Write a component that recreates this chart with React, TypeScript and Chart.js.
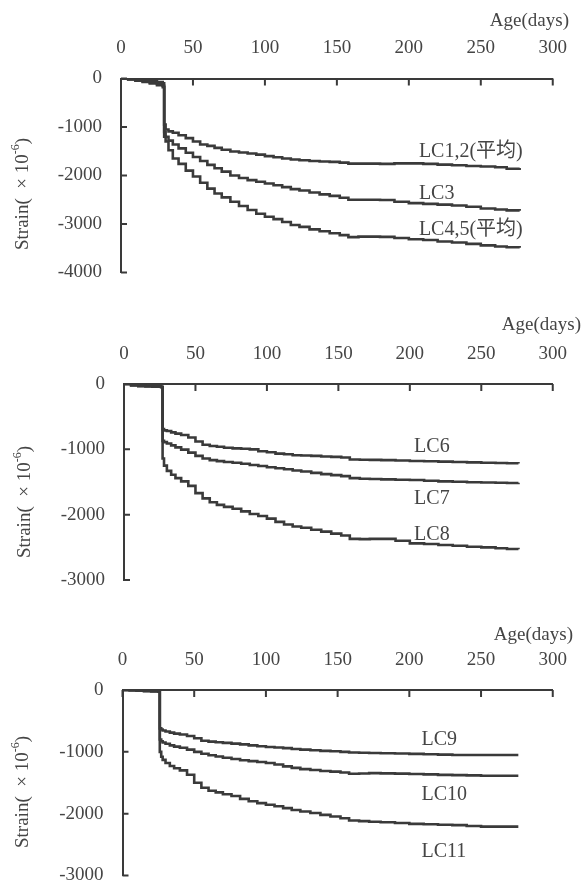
import React, { useEffect, useRef } from "react";
import { Chart, registerables } from "chart.js";

Chart.register(...registerables);

// ---------- data ----------
const xTickStep = 50;

// Panel 1 : LC1,2 / LC3 / LC4,5
const days1 = [0, 5, 10, 15, 20, 25, 29, 30, 31, 33, 36, 40, 45, 50, 55, 60, 65, 70, 76, 82, 88, 94, 100, 106, 112, 118, 124, 131, 138, 145, 152, 158, 165, 172, 180, 190, 200, 210, 220, 230, 240, 250, 260, 268, 277];
const lc12 = [0, -10, -25, -40, -55, -75, -100, -950, -1050, -1090, -1120, -1170, -1230, -1300, -1360, -1390, -1430, -1470, -1505, -1525, -1545, -1570, -1600, -1625, -1650, -1670, -1685, -1700, -1710, -1720, -1735, -1755, -1755, -1755, -1760, -1750, -1750, -1760, -1775, -1790, -1805, -1815, -1830, -1860, -1845];
const lc3 = [0, -15, -35, -55, -80, -110, -150, -1100, -1200, -1280, -1360, -1440, -1530, -1620, -1700, -1780, -1850, -1920, -2000, -2050, -2095, -2130, -2165, -2200, -2240, -2280, -2310, -2350, -2390, -2420, -2460, -2500, -2500, -2500, -2505, -2540, -2570, -2585, -2600, -2620, -2645, -2680, -2700, -2720, -2725];
const lc45 = [0, -20, -45, -70, -100, -140, -180, -1200, -1300, -1480, -1650, -1760, -1900, -2020, -2150, -2270, -2370, -2450, -2540, -2630, -2710, -2790, -2850, -2900, -2960, -3020, -3060, -3110, -3150, -3190, -3230, -3270, -3260, -3260, -3265, -3290, -3315, -3330, -3360, -3380, -3410, -3440, -3465, -3480, -3490];

// Panel 2 : LC6 / LC7 / LC8
const days2 = [0, 5, 10, 15, 20, 26, 27, 28, 30, 33, 36, 40, 45, 50, 55, 60, 65, 70, 76, 82, 88, 94, 100, 106, 112, 118, 124, 131, 138, 145, 152, 158, 165, 172, 180, 190, 200, 210, 220, 230, 240, 250, 260, 268, 276];
const lc6 = [0, -20, -30, -35, -40, -45, -690, -710, -720, -740, -760, -780, -820, -880, -930, -950, -960, -975, -985, -990, -1000, -1030, -1045, -1065, -1075, -1090, -1095, -1100, -1110, -1115, -1125, -1155, -1160, -1162, -1165, -1170, -1178, -1183, -1188, -1195, -1200, -1205, -1210, -1212, -1215];
const lc7 = [0, -20, -30, -35, -40, -45, -870, -890, -910, -940, -970, -1005, -1050, -1100, -1140, -1165, -1180, -1195, -1205, -1220, -1240, -1255, -1275, -1290, -1305, -1325, -1340, -1360, -1380, -1395, -1410, -1440, -1450, -1455, -1460, -1465, -1470, -1480, -1490, -1497, -1503, -1508, -1511, -1515, -1511];
const lc8 = [0, -20, -30, -35, -40, -45, -1140, -1250, -1330, -1390, -1440, -1490, -1560, -1670, -1750, -1810, -1850, -1880, -1910, -1950, -1990, -2020, -2060, -2110, -2150, -2180, -2200, -2230, -2260, -2290, -2320, -2370, -2375, -2370, -2370, -2400, -2440, -2450, -2465, -2475, -2490, -2500, -2515, -2525, -2531];

// Panel 3 : LC9 / LC10 / LC11
const days3 = [0, 5, 10, 15, 20, 25, 26, 27, 28, 30, 33, 36, 40, 45, 50, 55, 60, 65, 70, 76, 82, 88, 94, 100, 106, 112, 118, 124, 131, 138, 145, 152, 158, 165, 172, 180, 190, 200, 210, 220, 230, 240, 250, 260, 268, 276];
const lc9 = [0, -5, -10, -15, -20, -25, -620, -640, -655, -670, -690, -705, -720, -745, -780, -820, -835, -846, -855, -868, -880, -895, -910, -922, -930, -940, -955, -965, -975, -985, -990, -1000, -1010, -1015, -1018, -1022, -1028, -1033, -1040, -1045, -1050, -1050, -1051, -1051, -1051, -1051];
const lc10 = [0, -5, -10, -15, -20, -25, -800, -830, -850, -870, -895, -915, -935, -965, -1000, -1030, -1055, -1075, -1095, -1115, -1135, -1150, -1165, -1180, -1205, -1235, -1260, -1280, -1295, -1310, -1320, -1335, -1355, -1350, -1345, -1348, -1352, -1358, -1365, -1372, -1376, -1380, -1386, -1386, -1386, -1386];
const lc11 = [0, -5, -10, -15, -20, -25, -1000, -1080, -1130, -1180, -1230, -1265, -1300, -1370, -1500, -1580, -1630, -1655, -1685, -1715, -1760, -1800, -1830, -1855, -1880, -1910, -1940, -1965, -1990, -2020, -2045, -2075, -2110, -2120, -2130, -2140, -2150, -2165, -2172, -2180, -2185, -2200, -2210, -2210, -2210, -2210];

// ---------- styles / layout ----------
const SERIF = '"Liberation Serif", "Times New Roman", "Noto Sans CJK SC", serif';
const TEXT = "#454545";
const LINE = "#3a3a3a";
const AXIS = "#3a3a3a";
const FS = 19;

type Panel = {
  top: number;
  height: number;
  area: { left: number; right: number; top: number; bottom: number };
  yMin: number;
  days: number[];
  series: number[][];
  names: string[];
  labelAt: { x: number; y: number }[];
  age: { right: number; y: number };
  yTitle: { x: number; y: number };
};

const panels: Panel[] = [
  {
    top: 0, height: 316,
    area: { left: 121, right: 561, top: 78.5, bottom: 272.5 },
    yMin: -4000, days: days1, series: [lc12, lc3, lc45],
    names: ["LC1,2(平均)", "LC3", "LC4,5(平均)"],
    labelAt: [{ x: 207, y: -1510 }, { x: 207, y: -2370 }, { x: 207, y: -3125 }],
    age: { right: 569, y: 21 }, yTitle: { x: 23, y: 194 },
  },
  {
    top: 300, height: 322,
    area: { left: 124, right: 568, top: 84, bottom: 280 },
    yMin: -3000, days: days2, series: [lc6, lc7, lc8],
    names: ["LC6", "LC7", "LC8"],
    labelAt: [{ x: 203, y: -960 }, { x: 203, y: -1750 }, { x: 203, y: -2311 }],
    age: { right: 581, y: 25 }, yTitle: { x: 25, y: 202 },
  },
  {
    top: 596, height: 322,
    area: { left: 122.5, right: 556, top: 94, bottom: 279.5 },
    yMin: -3000, days: days3, series: [lc9, lc10, lc11],
    names: ["LC9", "LC10", "LC11"],
    labelAt: [{ x: 208.5, y: -809 }, { x: 208.5, y: -1698 }, { x: 208.5, y: -2615 }],
    age: { right: 573, y: 39 }, yTitle: { x: 23, y: 196 },
  },
];

const W = 586;

function makeDecor(p: Panel) {
  return {
    id: "decor",
    afterDraw(chart: any) {
      const { ctx, chartArea } = chart;
      const xs = chart.scales.x;
      const ys = chart.scales.y;
      ctx.save();
      // inward tick marks
      ctx.strokeStyle = AXIS;
      ctx.lineWidth = 2;
      ctx.beginPath();
      xs.ticks.forEach((t: any) => {
        const px = xs.getPixelForValue(t.value);
        ctx.moveTo(px, chartArea.top);
        ctx.lineTo(px, chartArea.top + 7);
      });
      ys.ticks.forEach((t: any) => {
        const py = ys.getPixelForValue(t.value);
        ctx.moveTo(chartArea.left, py);
        ctx.lineTo(chartArea.left + 6, py);
      });
      ctx.stroke();

      ctx.fillStyle = TEXT;
      ctx.font = `${FS + 1}px ${SERIF}`;
      ctx.textBaseline = "middle";
      // series labels
      ctx.textAlign = "left";
      p.names.forEach((n, i) => {
        const a = p.labelAt[i];
        ctx.fillText(n, xs.getPixelForValue(a.x), ys.getPixelForValue(a.y));
      });
      // x axis title
      ctx.font = `${FS}px ${SERIF}`;
      ctx.textAlign = "right";
      ctx.fillText("Age(days)", p.age.right, p.age.y);

      // y axis title (rotated)
      ctx.translate(p.yTitle.x, p.yTitle.y);
      ctx.rotate(-Math.PI / 2);
      const mainFont = `${FS}px ${SERIF}`;
      const supFont = `12px ${SERIF}`;
      const parts = [
        { t: "Strain(  ", f: mainFont, dy: 0 },
        { t: "×", f: mainFont, dy: 0 },
        { t: " 10", f: mainFont, dy: 0 },
        { t: "-6", f: supFont, dy: -7 },
        { t: ")", f: mainFont, dy: 0 },
      ];
      let total = 0;
      parts.forEach((pt) => {
        ctx.font = pt.f;
        total += ctx.measureText(pt.t).width;
      });
      let cx = -total / 2;
      ctx.textAlign = "left";
      parts.forEach((pt) => {
        ctx.font = pt.f;
        ctx.fillText(pt.t, cx, pt.dy);
        cx += ctx.measureText(pt.t).width;
      });
      ctx.restore();
    },
  };
}

function PanelChart({ p }: { p: Panel }) {
  const ref = useRef<HTMLCanvasElement | null>(null);
  useEffect(() => {
    if (!ref.current) return;
    const chart = new Chart(ref.current, {
      type: "line",
      data: {
        datasets: p.series.map((vals, i) => ({
          label: p.names[i],
          data: p.days.map((d, j) => ({ x: d, y: vals[j] })),
          borderColor: LINE,
          borderWidth: 2.6,
          pointRadius: 0,
          stepped: "before" as const,
          fill: false,
        })),
      },
      options: {
        animation: false,
        responsive: false,
        maintainAspectRatio: false,
        events: [],
        layout: {
          padding: { left: 0, top: 0, right: W - p.area.right, bottom: p.height - p.area.bottom },
        },
        plugins: { legend: { display: false }, tooltip: { enabled: false } },
        scales: {
          x: {
            type: "linear",
            position: "top",
            min: 0,
            max: 300,
            afterFit: (s: any) => { s.height = p.area.top; },
            ticks: {
              stepSize: xTickStep,
              color: TEXT,
              font: { family: SERIF, size: FS },
              padding: 19,
              maxRotation: 0,
              callback: (v: any) => String(v),
            },
            grid: { display: true, drawOnChartArea: false, drawTicks: false },
            border: { display: true, color: AXIS, width: 2 },
          },
          y: {
            type: "linear",
            min: p.yMin,
            max: 0,
            afterFit: (s: any) => { s.width = p.area.left; },
            ticks: {
              stepSize: 1000,
              color: TEXT,
              font: { family: SERIF, size: FS },
              padding: 19,
              callback: (v: any) => String(v),
            },
            grid: { display: true, drawOnChartArea: false, drawTicks: false },
            border: { display: true, color: AXIS, width: 2 },
          },
        },
      },
      plugins: [makeDecor(p)],
    } as any);
    return () => chart.destroy();
  }, [p]);
  return (
    <canvas
      ref={ref}
      width={W}
      height={p.height}
      style={{ position: "absolute", left: 0, top: p.top, width: W, height: p.height }}
    />
  );
}

export default function App() {
  return (
    <div
      style={{
        position: "absolute",
        left: 0,
        top: 0,
        width: W,
        height: 882,
        overflow: "hidden",
        background: "#ffffff",
      }}
    >
      {panels.map((p, i) => (
        <PanelChart key={i} p={p} />
      ))}
    </div>
  );
}
